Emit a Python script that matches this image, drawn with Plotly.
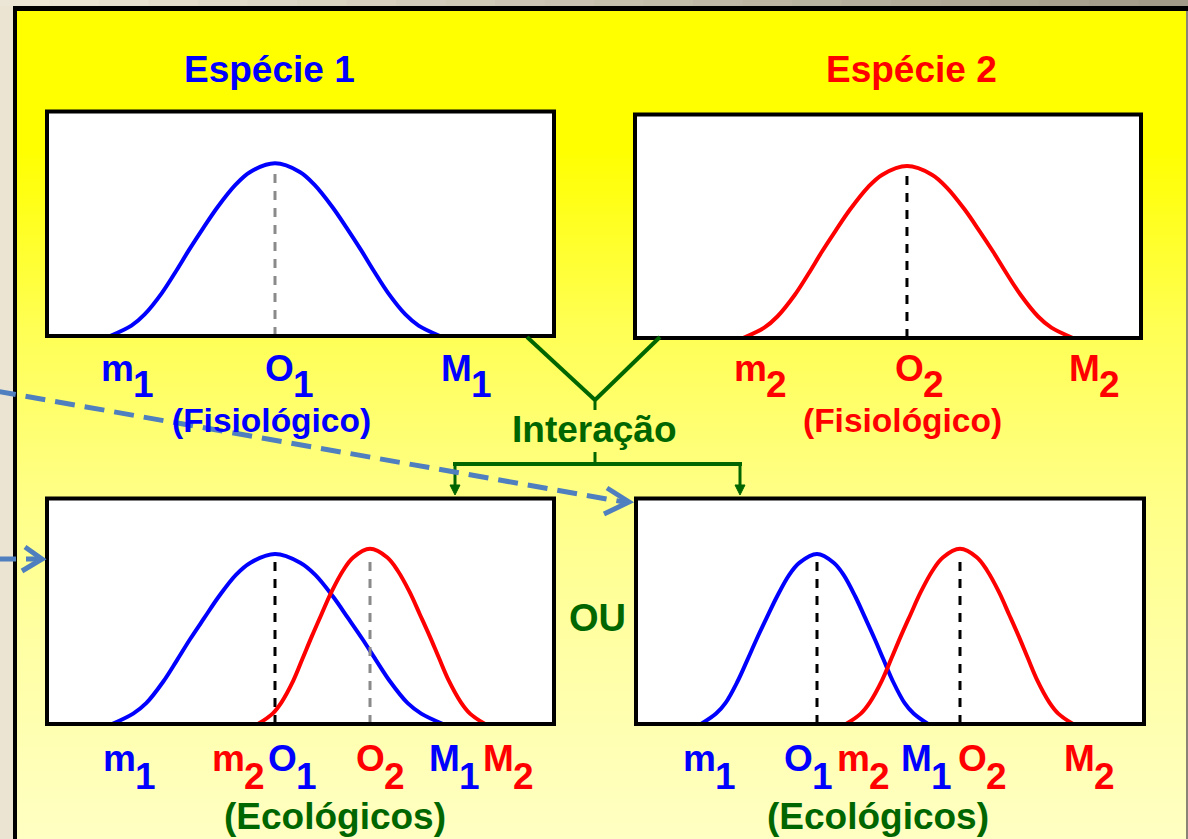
import plotly.graph_objects as go

W, H = 1188, 839

# ---------------------------------------------------------------------------
# Tolerance curves along the environmental gradient (0-100) and relative response
# ---------------------------------------------------------------------------
# Species 1, physiological niche
grad_sp1_fis = [12.43, 16.65, 19.25, 22.68, 25.44, 28.05, 30.81, 33.73, 37.16, 40.08, 44.97,
                49.86, 52.78, 56.21, 59.13, 61.89, 64.50, 67.26, 70.69, 73.29, 77.51]
resp_sp1_fis = [0.0, 0.06, 0.125, 0.25, 0.375, 0.5, 0.625, 0.75, 0.875, 0.95, 1.0,
                0.95, 0.875, 0.75, 0.625, 0.5, 0.375, 0.25, 0.125, 0.06, 0.0]
# Species 2, physiological niche
grad_sp2_fis = [21.34, 25.55, 28.14, 31.56, 34.31, 36.90, 39.66, 42.57, 45.97, 48.89, 53.75,
                58.68, 61.62, 65.08, 68.02, 70.81, 73.44, 76.23, 79.66, 82.29, 86.56]
resp_sp2_fis = [0.0, 0.06, 0.125, 0.25, 0.375, 0.5, 0.625, 0.75, 0.875, 0.95, 1.0,
                0.95, 0.875, 0.75, 0.625, 0.5, 0.375, 0.25, 0.125, 0.06, 0.0]
# Ecological niches, first outcome
grad_sp1_eco_a = [12.82, 17.00, 19.57, 22.94, 25.68, 28.24, 30.99, 33.89, 37.26, 40.14, 44.97,
                  49.94, 52.92, 56.41, 59.39, 62.21, 64.85, 67.67, 71.14, 73.81, 78.11]
resp_sp1_eco_a = [0.0, 0.06, 0.12, 0.245, 0.37, 0.49, 0.61, 0.735, 0.86, 0.93, 0.98,
                  0.93, 0.86, 0.735, 0.61, 0.49, 0.37, 0.245, 0.12, 0.06, 0.0]
grad_sp2_eco_a = [41.62, 44.50, 46.25, 48.58, 50.45, 52.23, 54.10, 56.09, 58.40, 60.39, 63.71,
                  67.12, 69.15, 71.54, 73.57, 75.50, 77.32, 79.25, 81.64, 83.43, 86.39]
resp_sp2_eco_a = [0.0, 0.06, 0.125, 0.25, 0.38, 0.505, 0.63, 0.76, 0.885, 0.96, 1.01,
                  0.96, 0.885, 0.76, 0.63, 0.505, 0.38, 0.25, 0.125, 0.06, 0.0]
# Ecological niches, second outcome
grad_sp1_eco_b = [12.80, 15.77, 17.60, 19.98, 21.93, 23.76, 25.69, 27.76, 30.16, 32.20, 35.63,
                  38.92, 40.87, 43.17, 45.14, 46.99, 48.74, 50.59, 52.89, 54.65, 57.48]
resp_sp1_eco_b = [0.0, 0.06, 0.12, 0.245, 0.37, 0.49, 0.61, 0.735, 0.86, 0.93, 0.98,
                  0.93, 0.86, 0.735, 0.61, 0.49, 0.37, 0.245, 0.12, 0.06, 0.0]
grad_sp2_eco_b = [41.34, 44.25, 46.04, 48.41, 50.31, 52.11, 54.02, 56.04, 58.39, 60.41, 63.78,
                  67.13, 69.11, 71.46, 73.46, 75.35, 77.13, 79.02, 81.36, 83.13, 86.02]
resp_sp2_eco_b = [0.0, 0.06, 0.125, 0.25, 0.38, 0.505, 0.63, 0.76, 0.885, 0.96, 1.01,
                  0.96, 0.885, 0.76, 0.63, 0.505, 0.38, 0.25, 0.125, 0.06, 0.0]

species_titles = ["Espécie 1", "Espécie 2"]
niche_names = ["(Fisiológico)", "(Ecológicos)"]
point_letters = ["m", "O", "M"]          # minimum, optimum, maximum
interaction_text = "Interação"
or_text = "OU"

# ---------------------------------------------------------------------------
BLUE, RED, GREEN = "#0000ff", "#ff0000", "#006600"
DASH_BLACK, DASH_GRAY = "#000000", "#8a8a8a"
ARROW_BLUE = "#4f7fbe"
FONT = "Liberation Sans, Arial, sans-serif"


def px(x):
    return x / W


def py(y):
    return 1 - y / H


# panel boxes (pixel coords of border centre lines) and their contents
panels = [
    dict(box=(47, 111.5, 554, 336), base=381, sub=397,
         curves=[(grad_sp1_fis, resp_sp1_fis, BLUE, "1", DASH_GRAY)],
         shifts={"m1": 24, "O1": 19, "M1": 32}),
    dict(box=(635, 114.5, 1141, 338), base=381, sub=397,
         curves=[(grad_sp2_fis, resp_sp2_fis, RED, "2", DASH_BLACK)],
         shifts={"m2": 24, "O2": 17, "M2": 27}),
    dict(box=(47, 498.5, 554, 724), base=771, sub=789,
         curves=[(grad_sp1_eco_a, resp_sp1_eco_a, BLUE, "1", DASH_BLACK),
                 (grad_sp2_eco_a, resp_sp2_eco_a, RED, "2", DASH_GRAY)],
         shifts={"m1": 24, "O1": 22, "M1": 17, "m2": -13, "O2": 15, "M2": 29}),
    dict(box=(636, 498.5, 1144, 724), base=771, sub=789,
         curves=[(grad_sp1_eco_b, resp_sp1_eco_b, BLUE, "1", DASH_BLACK),
                 (grad_sp2_eco_b, resp_sp2_eco_b, RED, "2", DASH_BLACK)],
         shifts={"m1": 15, "O1": -4, "M1": 4, "m2": 24, "O2": 27, "M2": 22}),
]

fig = go.Figure()
shapes = []
annotations = []
layout_axes = {}

# ---- page background: beige surround, black frame, yellow gradient ----
top_left_rgb = (238, 232, 216)
top_right_rgb = (160, 153, 136)
nseg = 24
for i in range(nseg):
    t = (i + 0.5) / nseg
    c = tuple(round(a + (b - a) * t) for a, b in zip(top_left_rgb, top_right_rgb))
    shapes.append(dict(type="rect", xref="paper", yref="paper",
                       x0=px(W * i / nseg), x1=px(W * (i + 1) / nseg + 1),
                       y0=py(6), y1=py(0), fillcolor="rgb(%d,%d,%d)" % c,
                       line_width=0, layer="below"))

grad_stops = [(11, 0), (150, 0), (330, 85), (500, 135), (650, 165), (839, 195)]


def yellow_blue(y):
    for (ya, ba), (yb, bb) in zip(grad_stops[:-1], grad_stops[1:]):
        if ya <= y <= yb:
            return ba + (bb - ba) * (y - ya) / (yb - ya)
    return grad_stops[-1][1]


band = 4
for y in range(11, H, band):
    b = round(yellow_blue(y + band / 2))
    shapes.append(dict(type="rect", xref="paper", yref="paper",
                       x0=px(17), x1=px(1186), y0=py(min(y + band + 1, H)), y1=py(y),
                       fillcolor="rgb(255,255,%d)" % b, line_width=0, layer="below"))

shapes += [
    dict(type="rect", xref="paper", yref="paper", x0=px(13), x1=px(W), y0=py(11), y1=py(6),
         fillcolor="#000000", line_width=0, layer="below"),
    dict(type="rect", xref="paper", yref="paper", x0=px(13), x1=px(17), y0=py(H), y1=py(6),
         fillcolor="#000000", line_width=0, layer="below"),
    dict(type="rect", xref="paper", yref="paper", x0=px(1186), x1=px(W), y0=py(H), y1=py(11),
         fillcolor="#8a8476", line_width=0, layer="below"),
]

# ---- panels, curves, optimum markers and point labels ----
for i, p in enumerate(panels, start=1):
    x0, y0, x1, y1 = p["box"]
    xa = "x" if i == 1 else "x%d" % i
    ya = "y" if i == 1 else "y%d" % i
    layout_axes["xaxis" if i == 1 else "xaxis%d" % i] = dict(
        domain=[px(x0), px(x1)], range=[0, 100], visible=False, fixedrange=True,
        anchor=ya)
    layout_axes["yaxis" if i == 1 else "yaxis%d" % i] = dict(
        domain=[py(y1), py(y0)], range=[0, 1.3], visible=False, fixedrange=True,
        anchor=xa)
    shapes.append(dict(type="rect", xref="paper", yref="paper",
                       x0=px(x0), x1=px(x1), y0=py(y1), y1=py(y0),
                       fillcolor="#ffffff", line_width=0, layer="below"))
    shapes.append(dict(type="rect", xref="paper", yref="paper",
                       x0=px(x0), x1=px(x1), y0=py(y1), y1=py(y0),
                       fillcolor="rgba(0,0,0,0)", line=dict(color="#000000", width=4),
                       layer="above"))

    for gx, gy, color, sub, dash_color in p["curves"]:
        k = gy.index(max(gy))
        fig.add_trace(go.Scatter(x=[gx[k], gx[k]], y=[0, gy[k] - 0.03], xaxis=xa, yaxis=ya,
                                 mode="lines", hoverinfo="skip", showlegend=False,
                                 line=dict(color=dash_color, width=3, dash="9px,8px")))
        fig.add_trace(go.Scatter(x=gx, y=gy, xaxis=xa, yaxis=ya, mode="lines",
                                 line=dict(color=color, width=4, shape="spline", smoothing=1),
                                 hoverinfo="skip", showlegend=False))
        for letter, val in zip(point_letters, [gx[0], gx[k], gx[-1]]):
            shift = p["shifts"][letter + sub]
            annotations.append(dict(
                text="<b>%s</b>" % letter, x=val, xref=xa, y=py(p["base"] - 13), yref="paper",
                xanchor="right", yanchor="middle", xshift=shift, showarrow=False,
                borderpad=0, borderwidth=0, font=dict(family=FONT, size=37, color=color)))
            annotations.append(dict(
                text="<b>%s</b>" % sub, x=val, xref=xa, y=py(p["sub"] - 13), yref="paper",
                xanchor="left", yanchor="middle", xshift=shift - 1, showarrow=False,
                borderpad=0, borderwidth=0, font=dict(family=FONT, size=37, color=color)))


def text(t, x, y, size, color):
    annotations.append(dict(text="<b>%s</b>" % t, x=px(x), y=py(y), xref="paper", yref="paper",
                            xanchor="center", yanchor="middle", showarrow=False,
                            borderpad=0, borderwidth=0,
                            font=dict(family=FONT, size=size, color=color)))


text(species_titles[0], 269, 69, 37, BLUE)
text(species_titles[1], 911, 69, 37, RED)
text(niche_names[0], 271, 420.5, 33.5, BLUE)
text(niche_names[0], 902, 420, 33.5, RED)
text(niche_names[1], 335, 816, 37, GREEN)
text(niche_names[1], 877.5, 816, 37, GREEN)
text(interaction_text, 594.5, 429.5, 37, GREEN)
text(or_text, 597.5, 618, 38, GREEN)


# ---- green interaction connectors ----
def seg(xa_, ya_, xb, yb, color, width, dash=None, layer="above"):
    line = dict(color=color, width=width)
    if dash:
        line["dash"] = dash
    shapes.append(dict(type="line", xref="paper", yref="paper",
                       x0=px(xa_), y0=py(ya_), x1=px(xb), y1=py(yb), line=line, layer=layer))


def path(points, color, width=0, fill=None):
    d = "M " + " L ".join("%f,%f" % (px(a), py(b)) for a, b in points)
    if fill:
        d += " Z"
    shapes.append(dict(type="path", xref="paper", yref="paper", path=d,
                       fillcolor=fill if fill else "rgba(0,0,0,0)",
                       line=dict(color=color, width=width), layer="above"))


seg(527, 337, 595, 400, GREEN, 4)
seg(660, 337, 595, 400, GREEN, 4)
seg(595, 399, 595, 410, GREEN, 3)
seg(595, 452, 595, 464, GREEN, 3)
seg(453, 464, 742, 464, GREEN, 4)
for ax_ in (455, 740):
    seg(ax_, 464, ax_, 487, GREEN, 3)
    path([(ax_ - 5, 485), (ax_ + 5, 485), (ax_, 495)], GREEN, 1, fill=GREEN)

# ---- blue dashed pointers ----
seg(-4, 391, 624, 502, ARROW_BLUE, 5, dash="20px,10px")
path([(607, 488), (629, 502), (604, 514)], ARROW_BLUE, 5)
seg(-4, 559, 38, 559, ARROW_BLUE, 5, dash="20px,10px")
path([(25, 547), (42, 559), (22, 571)], ARROW_BLUE, 5)

fig.update_layout(
    width=W, height=H, margin=dict(l=0, r=0, t=0, b=0), autosize=False,
    paper_bgcolor="#ebe4d2", plot_bgcolor="rgba(0,0,0,0)",
    shapes=shapes, annotations=annotations, showlegend=False,
    **layout_axes,
)

fig.write_html("out.html", config={"displayModeBar": False})
